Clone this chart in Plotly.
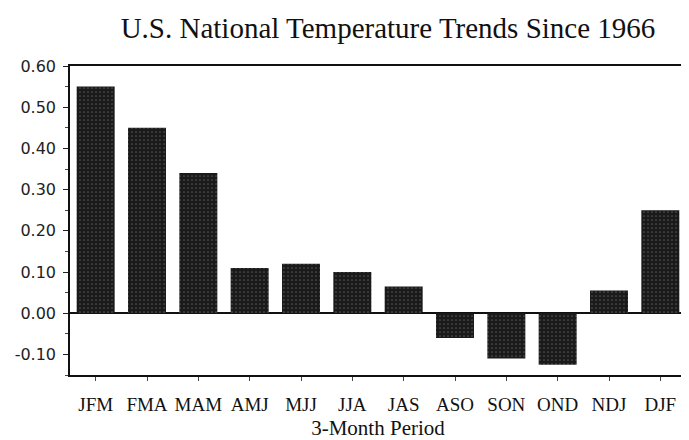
import plotly.graph_objects as go

periods = ["JFM", "FMA", "MAM", "AMJ", "MJJ", "JJA", "JAS", "ASO", "SON", "OND", "NDJ", "DJF"]
trends = [0.55, 0.45, 0.34, 0.11, 0.12, 0.10, 0.065, -0.06, -0.11, -0.125, 0.055, 0.25]
y_ticks = [0.60, 0.50, 0.40, 0.30, 0.20, 0.10, 0.00, -0.10]

fig = go.Figure()

fig.add_trace(go.Bar(
    x=periods,
    y=trends,
    width=0.74,
    marker=dict(color="#1a1a1a", line=dict(width=0),
                pattern=dict(shape=".", fgcolor="#8a8a8a", bgcolor="#1a1a1a", size=4, solidity=0.15)),
    hoverinfo="skip",
))

# the page body has an 8px margin, so the figure is 8px smaller than the window
fig.update_layout(
    width=681, height=432,
    margin=dict(l=62, r=3, t=58, b=65),
    paper_bgcolor="white", plot_bgcolor="white",
    showlegend=False,
    title=dict(text="U.S. National Temperature Trends Since 1966",
               font=dict(family="Liberation Serif", size=29, color="#111"),
               x=0.558, xanchor="center", y=0.955, yanchor="middle"),
)

fig.update_xaxes(
    range=[-0.5, 11.5], automargin=False,
    showline=True, linecolor="#111", linewidth=1.5, mirror=True,
    ticks="outside", ticklen=4, tickcolor="#444",
    ticklabelstandoff=7,
    tickfont=dict(family="Liberation Serif", size=19, color="#111"),
    title=dict(text="3-Month Period", font=dict(family="Liberation Serif", size=21, color="#111"), standoff=10),
    showgrid=False,
)

# plain hyphen for the minus sign, as in the original
fig.update_yaxes(
    range=[-0.15, 0.60], automargin=False,
    tickvals=y_ticks, ticktext=[f"{v:.2f}" for v in y_ticks],
    showline=True, linecolor="#111", linewidth=1.5,
    ticks="outside", ticklen=5, tickcolor="#222",
    ticklabelstandoff=4,
    tickfont=dict(family="DejaVu Sans", size=16, color="#222"),
    minor=dict(dtick=0.05, ticks="outside", ticklen=3, tickcolor="#444"),
    showgrid=False,
    zeroline=True, zerolinecolor="#111", zerolinewidth=1.5,
)

fig.write_html("out.html")
